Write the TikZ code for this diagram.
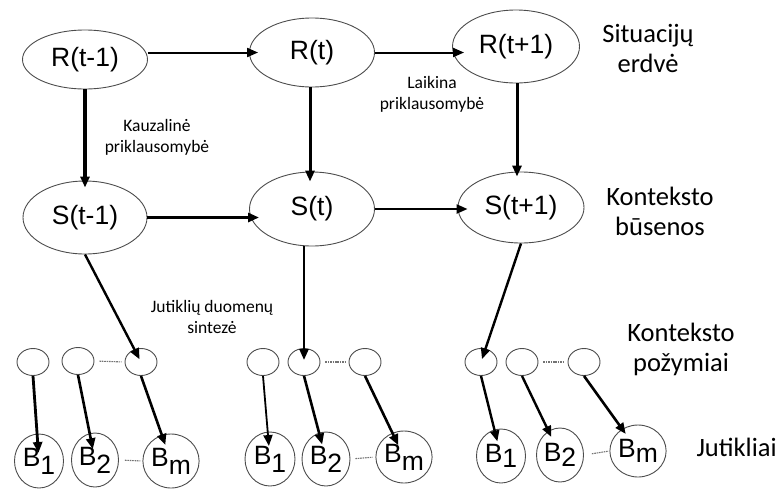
\documentclass[tikz,border=0pt]{standalone}
\usepackage{fontspec}
\setmainfont{Liberation Sans}
\newfontfamily\lblfont{Carlito}
\usetikzlibrary{arrows.meta,shapes.geometric}

% subscript set at full size and lowered, as in the sensor labels
\newcommand{\lowsub}[2][8pt]{\raisebox{-#1}{#2}}

\begin{document}
\begin{tikzpicture}[x=1pt,y=-1pt,
  outline/.style={ellipse, draw=black!70, line width=0.9pt, inner sep=0pt},
  state/.style={outline, font=\fontsize{26.5}{26.5}\selectfont},
  feat/.style={outline, minimum width=32pt, minimum height=27pt},
  sensor/.style={outline, font=\fontsize{26.5}{26.5}\selectfont},
  arr/.style={-{Triangle[length=11pt,width=9pt]}, line width=2.6pt},
  link/.style={draw=black!55, line width=1.1pt, dash pattern=on 1.6pt off 0.8pt},
  note/.style={font=\lblfont\fontsize{17.5}{21}\selectfont, align=center},
  level/.style={font=\lblfont\fontsize{26.5}{30}\selectfont, align=center},
]
\useasboundingbox (0,0) rectangle (778,488);

% situation space
\node[state, minimum width=125pt, minimum height=59pt] (rA) at (85,59.5) {R(t-1)};
\node[state, minimum width=125pt, minimum height=69pt] (rB) at (312,52.5) {R(t)};
\node[state, minimum width=127pt, minimum height=73pt] (rC) at (516,46.5) {R(t+1)};

% context states
\node[state, minimum width=124pt, minimum height=73pt] (sA) at (85,217.5) {S(t-1)};
\node[state, minimum width=125pt, minimum height=74pt] (sB) at (312,209) {S(t)};
\node[state, minimum width=126pt, minimum height=71pt] (sC) at (521,207.5) {S(t+1)};

% context features
\node[feat] (g1c1) at (33,362) {};
\node[feat] (g1c2) at (78,361) {};
\node[feat] (g1c3) at (141,362) {};
\node[feat] (g2c1) at (263,362) {};
\node[feat] (g2c2) at (304,362) {};
\node[feat] (g2c3) at (365,362) {};
\node[feat] (g3c1) at (481,362) {};
\node[feat] (g3c2) at (522,362) {};
\node[feat] (g3c3) at (584,362) {};

% sensors
\node[sensor, minimum width=49pt, minimum height=54pt] (g1b1) at (39,461) {B\lowsub{1}};
\node[sensor, minimum width=47pt, minimum height=54pt] (g1b2) at (95,460) {B\lowsub{2}};
\node[sensor, minimum width=52pt, minimum height=54pt] (g1bm) at (171,461) {B\lowsub{m}};
\node[sensor, minimum width=50pt, minimum height=54pt] (g2b1) at (270,459) {B\lowsub{1}};
\node[sensor, minimum width=48pt, minimum height=54pt] (g2b2) at (326,459) {B\lowsub{2}};
\node[sensor, minimum width=48pt, minimum height=52pt] (g2bm) at (404,457) {B\lowsub{m}};
\node[sensor, minimum width=49pt, minimum height=54pt] (g3b1) at (501,456) {B\lowsub[5pt]{1}};
\node[sensor, minimum width=47pt, minimum height=54pt] (g3b2) at (560,455) {B\lowsub[5pt]{2}};
\node[sensor, minimum width=50pt, minimum height=52pt] (g3bm) at (638,451) {B\lowsub[5pt]{m}};

% level captions
\node[level] (lsit) at (648,48) {Situacijų\\erdvė};
\node[level] (lkb) at (660,211) {Konteksto\\būsenos};
\node[level] (lkp) at (681,349) {Konteksto\\požymiai};
\node[level, anchor=west] (ljut) at (693,447) {Jutikliai};

% dependency notes
\node[note] (nk) at (157,137) {Kauzalinė\\priklausomybė};
\node[note] (nl) at (432,94) {Laikina\\priklausomybė};
\node[note] (nj) at (212,317) {Jutiklių duomenų\\sintezė};

% temporal dependencies
\draw[arr, line width=2pt, shorten >=-9pt] (rA.east |- rB.west) -- (rB.west);
\draw[arr, line width=2pt, shorten >=-12pt] (rB.east) -- (rB.east -| rC.west);
\draw[arr, line width=3.2pt, shorten >=-10pt] (sA.east) -- (sA.east -| sB.west);
\draw[arr, line width=2.2pt, shorten >=-10pt] (sB.east) -- (sB.east -| sC.west);

% causal dependencies
\draw[arr, line width=3.2pt, shorten >=-7pt] (rA.south) -- (sA.north);
\draw[arr, line width=3pt, shorten >=-10pt] (rB.south -| 310,0) -- (sB.north -| 310,0);
\draw[arr, line width=3pt, shorten >=-5pt] (rC.south -| 517,0) -- (sC.north -| 517,0);

% sensor data fusion
\draw[arr, line width=2.4pt, shorten >=3pt] (sA.south) -- (g1c3.center);
\draw[arr, line width=2.4pt, shorten >=2pt] (g2c2 |- sB.south) -- (g2c2.center);
\draw[arr, line width=2.4pt, shorten >=3pt] (sC.south) -- (g3c1.center);

% features to sensors
\draw[arr, line width=2.8pt, shorten >=8pt] (g1c1.south) -- (g1b1.center);
\draw[arr, line width=2.6pt, shorten >=11pt] (g1c2.south) -- (g1b2.center);
\draw[arr, line width=2.6pt, shorten >=17pt] (g1c3.south) -- (g1bm.center);
\draw[arr, line width=1.8pt, shorten >=13pt] (g2c1.south) -- (g2b1.center);
\draw[arr, line width=2.6pt, shorten >=15pt] (g2c2.south) -- (g2b2.center);
\draw[arr, line width=2.6pt, shorten >=13pt] (g2c3.south) -- (g2bm.center);
\draw[arr, line width=2.4pt, shorten >=15pt] (g3c1.south) -- (g3b1.center);
\draw[arr, line width=2.4pt, shorten >=20pt] (g3c2.south) -- (g3b2.center);
\draw[arr, line width=2.6pt, shorten >=21pt] (g3c3.south) -- (g3bm.center);

% elided members
\draw[link, shorten <=5pt, shorten >=3pt] (g1c2.east) -- (g1c3.west);
\draw[link, shorten <=5pt, shorten >=3pt] (g2c2.east) -- (g2c3.west);
\draw[link, shorten <=5pt, shorten >=3pt] (g3c2.east) -- (g3c3.west);
\draw[link, shorten <=6pt, shorten >=2pt] (g1b2.east) -- (g1bm.west);
\draw[link, shorten <=5pt, shorten >=3pt] (g2b2.east) -- (g2bm.west);
\draw[link, shorten <=8pt, shorten >=1pt] (g3b2.east) -- (g3bm.west);
\end{tikzpicture}
\end{document}
